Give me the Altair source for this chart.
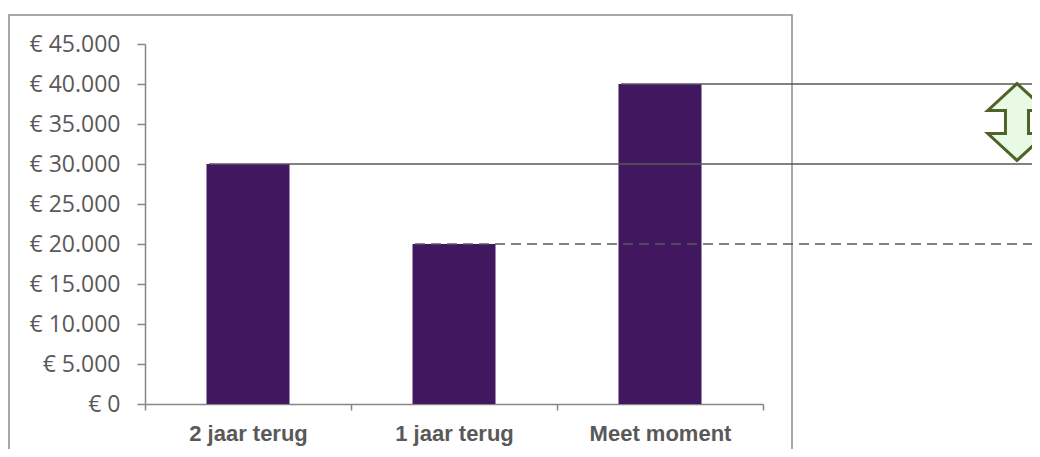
import altair as alt
import pandas as pd

categories = ["2 jaar terug", "1 jaar terug", "Meet moment"]
values = [30000, 20000, 40000]
y_ticks = [0, 5000, 10000, 15000, 20000, 25000, 30000, 35000, 40000, 45000]

# reference lines drawn from the top of each bar
ref_solid_cats = ["2 jaar terug", "Meet moment"]
ref_solid_vals = [30000, 40000]
ref_dash_cats = ["1 jaar terug"]
ref_dash_vals = [20000]

# double arrow between the two solid lines
arrow_low = [30000]
arrow_high = [40000]

bars_df = pd.DataFrame({"cat": categories, "val": values})
solid_df = pd.DataFrame({"cat": ref_solid_cats, "val": ref_solid_vals})
dash_df = pd.DataFrame({"cat": ref_dash_cats, "val": ref_dash_vals})
arrow_df = pd.DataFrame({"lo": arrow_low, "hi": arrow_high})

x_axis = alt.Axis(
    title=None,
    labelAngle=0,
    labelFont="Liberation Sans",
    labelFontWeight="bold",
    labelFontSize=22,
    labelColor="#595959",
    labelPadding=13,
    tickBand="extent",
    tickSize=6,
    tickColor="#868686",
    tickWidth=1.5,
    domainColor="#868686",
    domainWidth=1.5,
)
x_scale = alt.Scale(paddingInner=0, paddingOuter=0)

y_axis = alt.Axis(
    title=None,
    values=y_ticks,
    labelExpr="'€ ' + replace(format(datum.value, ',.0f'), ',', '.')",
    labelFont="Open Sans",
    labelFontSize=23,
    labelColor="#595959",
    labelPadding=17,
    labelOverlap=False,
    tickSize=8,
    tickColor="#868686",
    tickWidth=1.5,
    domainColor="#868686",
    domainWidth=1.5,
    grid=False,
)
y_scale = alt.Scale(domain=[0, 45000], nice=False)

border = alt.Chart(pd.DataFrame({"a": [0]})).mark_rect(
    fill=None, stroke="#8c8c8c", strokeWidth=1.5
).encode(
    x=alt.value(-136), x2=alt.value(647), y=alt.value(-29), y2=alt.value(470)
)

bars = alt.Chart(bars_df).mark_bar(size=83, color="#41185f").encode(
    x=alt.X("cat:N", sort=categories, scale=x_scale, axis=x_axis),
    y=alt.Y("val:Q", scale=y_scale, axis=y_axis),
)

solid = alt.Chart(solid_df).mark_rule(
    color="#595959", strokeWidth=1.6, xOffset=-39
).encode(
    x=alt.X("cat:N", sort=categories, scale=x_scale, axis=x_axis),
    x2=alt.value(900),
    y=alt.Y("val:Q", scale=y_scale, axis=y_axis),
)

dashed = alt.Chart(dash_df).mark_rule(
    color="#595959", strokeWidth=1.6, strokeDash=[10, 6], xOffset=-39
).encode(
    x=alt.X("cat:N", sort=categories, scale=x_scale, axis=x_axis),
    x2=alt.value(900),
    y=alt.Y("val:Q", scale=y_scale, axis=y_axis),
)

arrow_path = (
    "M0,-1 L0.76,-0.3 L0.3,-0.3 L0.3,0.3 L0.76,0.3 L0,1 "
    "L-0.76,0.3 L-0.3,0.3 L-0.3,-0.3 L-0.76,-0.3 Z"
)

arrow = alt.Chart(arrow_df).transform_calculate(
    val="(datum.lo + datum.hi) / 2"
).mark_point(
    shape=arrow_path,
    size=5900,
    filled=True,
    fill="#e8fae4",
    stroke="#4f6228",
    strokeWidth=3,
    opacity=1,
    yOffset=-2,
).encode(
    x=alt.value(872),
    y=alt.Y("val:Q", scale=y_scale, axis=y_axis),
)

chart = alt.layer(border, bars, solid, dashed, arrow).properties(
    width=618,
    height=360,
    autosize=alt.AutoSizeParams(type="none"),
    padding={"left": 137, "top": 36, "right": 269, "bottom": 45},
).configure_view(stroke=None)

chart.save("out.html", embed_options={"renderer": "svg", "actions": False})
